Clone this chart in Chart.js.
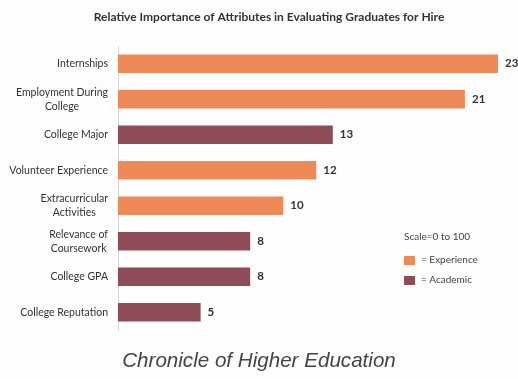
<!DOCTYPE html>
<html>
<head>
<meta charset="utf-8">
<script src="https://cdn.jsdelivr.net/npm/chart.js@4"></script>
<style>
html,body{margin:0;padding:0;background:#fdfdfd;}
#wrap{width:518px;height:379px;position:relative;}
</style>
</head>
<body>
<div id="wrap"><canvas id="c" width="518" height="379"></canvas></div>
<script>
const categories = [
  "Internships",
  ["Employment During", "College"],
  "College Major",
  "Volunteer Experience",
  ["Extracurricular", "Activities"],
  ["Relevance of", "Coursework"],
  "College GPA",
  "College Reputation"
];
const values = [23, 21, 13, 12, 10, 8, 8, 5];
const groups = ["Experience", "Experience", "Academic", "Experience", "Experience", "Academic", "Academic", "Academic"];
const groupColors = { Experience: "#EE8A58", Academic: "#8E4B58" };
const legendTitle = "Scale=0 to 100";
const footerText = "Chronicle of Higher Education";
const titleText = "Relative Importance of Attributes in Evaluating Graduates for Hire";

const labelFont = "Lato, 'Open Sans', sans-serif";

// Draw category labels (centered multi-line blocks, right-aligned to axis) using the y scale
const categoryLabels = {
  id: "categoryLabels",
  afterDraw(chart) {
    const ctx = chart.ctx;
    const yScale = chart.scales.y;
    const rightEdge = yScale.right - 10;
    const lineH = 14;
    ctx.save();
    ctx.font = "10.5px " + labelFont;
    ctx.fillStyle = "#333";
    ctx.textBaseline = "middle";
    ctx.textAlign = "center";
    categories.forEach((lab, i) => {
      const lines = Array.isArray(lab) ? lab : [lab];
      const w = Math.max(...lines.map(l => ctx.measureText(l).width));
      const cx = rightEdge - w / 2;
      const cy = yScale.getPixelForValue(i);
      const y0 = cy - (lines.length - 1) * lineH / 2;
      lines.forEach((l, k) => ctx.fillText(l, cx, y0 + k * lineH));
    });
    ctx.restore();
  }
};

const valueLabels = {
  id: "valueLabels",
  afterDatasetsDraw(chart) {
    const ctx = chart.ctx;
    const meta = chart.getDatasetMeta(0);
    ctx.save();
    ctx.font = "bold 11.5px " + labelFont;
    ctx.fillStyle = "#333";
    ctx.textBaseline = "middle";
    ctx.textAlign = "left";
    meta.data.forEach((bar, i) => {
      ctx.fillText(String(values[i]), bar.x + 7, bar.y);
    });
    ctx.restore();
  }
};

const customLegend = {
  id: "customLegend",
  afterDraw(chart) {
    const ctx = chart.ctx;
    ctx.save();
    // title
    ctx.font = "bold 12px " + labelFont;
    ctx.fillStyle = "#333";
    ctx.textBaseline = "middle";
    ctx.textAlign = "center";
    ctx.fillText(titleText, 269, 17);
    // legend
    ctx.font = "10px " + labelFont;
    ctx.fillStyle = "#444";
    ctx.textAlign = "left";
    ctx.fillText(legendTitle, 404, 237);
    const items = ["Experience", "Academic"];
    items.forEach((g, i) => {
      const y = 260 + i * 20;
      ctx.fillStyle = groupColors[g];
      ctx.fillRect(404, y - 4, 11, 9);
      ctx.fillStyle = "#444";
      ctx.fillText("= " + g, 421, y);
    });
    // footer
    ctx.font = "italic 20.6px 'Liberation Sans', Arial, sans-serif";
    ctx.fillStyle = "#444";
    ctx.textAlign = "center";
    ctx.fillText(footerText, 259, 361);
    ctx.restore();
  }
};

new Chart(document.getElementById("c"), {
  type: "bar",
  data: {
    labels: categories,
    datasets: [{
      data: values,
      backgroundColor: groups.map(g => groupColors[g]),
      borderWidth: 0,
      barPercentage: 0.52,
      categoryPercentage: 1
    }]
  },
  options: {
    indexAxis: "y",
    responsive: false,
    animation: false,
    devicePixelRatio: 1,
    layout: { padding: { left: 0, right: 20, top: 46, bottom: 49 } },
    plugins: {
      legend: { display: false },
      tooltip: { enabled: false },
      title: { display: false }
    },
    scales: {
      x: {
        display: false,
        min: 0,
        max: 23
      },
      y: {
        afterFit(scale) { scale.width = 118; },
        grid: { display: false, drawOnChartArea: false, drawTicks: false },
        border: { display: true, color: "#d8d8d8", width: 1 },
        ticks: { display: false }
      }
    }
  },
  plugins: [valueLabels, categoryLabels, customLegend]
});
</script>
</body>
</html>
